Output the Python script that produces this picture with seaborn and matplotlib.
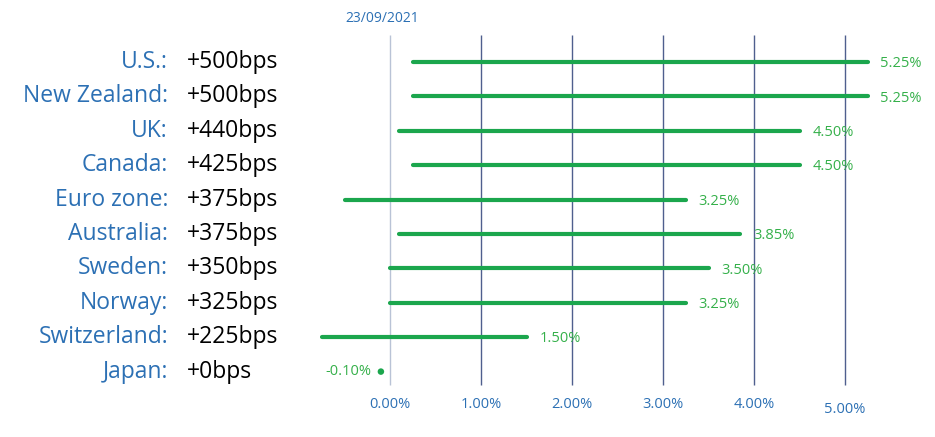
import matplotlib
matplotlib.use("Agg")
import matplotlib.pyplot as plt
import seaborn as sns
import pandas as pd

# Policy rates: start level (23/09/2021) and latest level, per central bank
countries = ["U.S.", "New Zealand", "UK", "Canada", "Euro zone",
             "Australia", "Sweden", "Norway", "Switzerland", "Japan"]
hike_bps = [500, 500, 440, 425, 375, 375, 350, 325, 225, 0]
latest_rate = [5.25, 5.25, 4.50, 4.50, 3.25, 3.85, 3.50, 3.25, 1.50, -0.10]
x_ticks = [0, 1, 2, 3, 4, 5]
start_label = "23/09/2021"

start_rate = [round(e - b / 100, 2) for e, b in zip(latest_rate, hike_bps)]

rows = []
for i, (c, s, e) in enumerate(zip(countries, start_rate, latest_rate)):
    rows.append({"country": c, "row": i, "rate": s})
    rows.append({"country": c, "row": i, "rate": e})
df = pd.DataFrame(rows)

sns.set_theme(style="white")
plt.rcParams["font.family"] = ["Open Sans", "DejaVu Sans"]

GREEN = "#1BA64D"
LABEL_GREEN = "#35B04A"
BLUE = "#2C70B4"
GRID = "#4F5F8E"

fig = plt.figure(figsize=(9.35, 4.37), dpi=100)
ax = fig.add_axes([0, 0, 1, 1])

# pixel layout: 0% at x=390, 91 px per percentage point; rows every 34.4 px
PX0, PXS = 390.0, 91.0
PY0, PYS = 62.0, 34.4
ax.set_xlim((0 - PX0) / PXS, (935 - PX0) / PXS)
ax.set_ylim((437 - PY0) / PYS, (0 - PY0) / PYS)
ax.axis("off")

# vertical reference lines
grid_top = (35 - PY0) / PYS
grid_bot = (385 - PY0) / PYS
for t in x_ticks:
    ax.vlines(t, grid_top, grid_bot, color="#B9C3D6" if t == 0 else GRID,
              lw=1.0, zorder=1)
    ax.text(t, (405 - PY0) / PYS + (0.12 if t == 5 else 0), f"{t:.2f}%",
            ha="center", va="center", fontsize=10.5, color=BLUE)

ax.text(-0.08, (18 - PY0) / PYS, start_label, ha="center", va="center",
        fontsize=10, color=BLUE)

sns.lineplot(data=df[df["country"] != "Japan"], x="rate", y="row",
             units="country", estimator=None, sort=False, color=GREEN,
             lw=3.0, ax=ax, legend=False, zorder=3)
jp = df[df["country"] == "Japan"].iloc[:1]
sns.scatterplot(data=jp, x="rate", y="row", color=GREEN, s=22,
                edgecolor="none", ax=ax, legend=False, zorder=3)

for i, (c, b, e) in enumerate(zip(countries, hike_bps, latest_rate)):
    ax.text((168 - PX0) / PXS, i, f"{c}:", ha="right", va="center",
            fontsize=16.5, color=BLUE)
    ax.text((187 - PX0) / PXS, i, f"+{b}bps", ha="left", va="center",
            fontsize=16.5, color="black")
    if c == "Japan":
        ax.text(e - 0.1, i, f"{e:.2f}%", ha="right", va="center",
                fontsize=10.5, color=LABEL_GREEN)
    else:
        ax.text(e + 0.14, i + 0.05, f"{e:.2f}%", ha="left", va="center",
                fontsize=10.5, color=LABEL_GREEN)

fig.savefig("out.png", dpi=100, facecolor="white")
